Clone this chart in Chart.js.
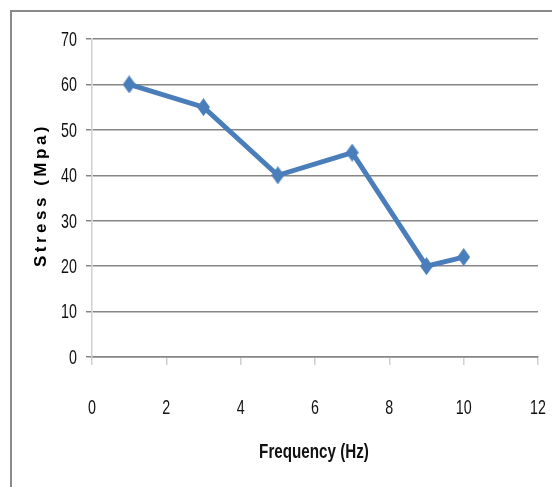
<!DOCTYPE html>
<html>
<head>
<meta charset="utf-8">
<script src="https://cdn.jsdelivr.net/npm/chart.js@4/dist/chart.umd.min.js"></script>
<style>
  html, body { margin: 0; padding: 0; background: #fff; overflow: hidden; }
  #wrap { width: 552px; height: 487px; position: relative; }
</style>
</head>
<body>
<div id="wrap"><canvas id="stressChart"></canvas></div>
<script>
// Data
const frequency = [1, 3, 5, 7, 9, 10];
const stress = [60, 55, 40, 45, 20, 22];
const xTicks = [0, 2, 4, 6, 8, 10, 12];
const yTicks = [0, 10, 20, 30, 40, 50, 60, 70];
const xTitle = 'Frequency (Hz)';
const yTitle = 'Stress (Mpa)';

const lineColor = '#4a7ebb';

// tall diamond marker like the Excel one
function makeDiamond(w, h) {
    const c = document.createElement('canvas');
    c.width = w;
    c.height = h;
    const g = c.getContext('2d');
    g.fillStyle = lineColor;
    g.beginPath();
    g.moveTo(w / 2, 0);
    g.lineTo(w, h / 2);
    g.lineTo(w / 2, h);
    g.lineTo(0, h / 2);
    g.closePath();
    g.fill();
    return c;
}

// draw text squeezed horizontally (the original uses a narrow face)
function narrowText(ctx, text, x, y, font, squeeze, align) {
    ctx.save();
    ctx.translate(x, y);
    ctx.scale(squeeze, 1);
    ctx.font = font;
    ctx.fillStyle = '#111';
    ctx.textAlign = align;
    ctx.textBaseline = 'middle';
    ctx.fillText(text, 0, 0);
    ctx.restore();
}

// Outer frame, narrow tick labels and axis titles
const labelsPlugin = {
    id: 'labels',
    afterDraw(chart) {
        const ctx = chart.ctx;
        const xs = chart.scales.x;
        const ys = chart.scales.y;
        const tickFont = "21px 'Liberation Sans', Arial, sans-serif";

        ctx.save();
        ctx.strokeStyle = '#8a8a8a';
        ctx.lineWidth = 2;
        ctx.strokeRect(11, 11, 700, 700);
        ctx.restore();

        yTicks.forEach(v => {
            narrowText(ctx, String(v), 77, ys.getPixelForValue(v) + 1, tickFont, 0.68, 'right');
        });
        xTicks.forEach(v => {
            narrowText(ctx, String(v), xs.getPixelForValue(v), 408, tickFont, 0.68, 'center');
        });

        narrowText(ctx, xTitle, (xs.left + xs.right) / 2 - 1, 452,
            "bold 20px 'Liberation Sans', Arial, sans-serif", 0.76, 'center');

        ctx.save();
        ctx.translate(41, 197);
        ctx.rotate(-Math.PI / 2);
        ctx.font = "bold 17px 'Liberation Sans', Arial, sans-serif";
        ctx.letterSpacing = '3.5px';
        ctx.fillStyle = '#000';
        ctx.textAlign = 'center';
        ctx.textBaseline = 'middle';
        ctx.fillText(yTitle, 2, 0);
        ctx.restore();
    }
};

document.addEventListener('DOMContentLoaded', function() {
    const ctx = document.getElementById('stressChart').getContext('2d');
    new Chart(ctx, {
        type: 'line',
        data: {
            datasets: [{
                data: frequency.map((f, i) => ({ x: f, y: stress[i] })),
                borderColor: lineColor,
                backgroundColor: lineColor,
                borderWidth: 5,
                pointStyle: makeDiamond(13, 18),
                tension: 0
            }]
        },
        options: {
            responsive: true,
            maintainAspectRatio: false,
            animation: false,
            layout: { padding: { top: 39, right: 14, left: 0, bottom: 0 } },
            plugins: {
                legend: { display: false },
                tooltip: { enabled: false }
            },
            scales: {
                x: {
                    type: 'linear',
                    min: xTicks[0],
                    max: xTicks[xTicks.length - 1],
                    afterBuildTicks: axis => { axis.ticks = xTicks.map(v => ({ value: v })); },
                    afterFit: axis => {
                        axis.height = 130;
                        axis.paddingLeft = 0;
                        axis.paddingRight = 0;
                    },
                    grid: {
                        drawOnChartArea: false,
                        drawTicks: true,
                        tickLength: 8,
                        color: '#d0d0d0',
                        lineWidth: 1.5
                    },
                    border: { color: '#868686', width: 1.5 },
                    ticks: { display: false }
                },
                y: {
                    min: yTicks[0],
                    max: yTicks[yTicks.length - 1],
                    afterBuildTicks: axis => { axis.ticks = yTicks.map(v => ({ value: v })); },
                    afterFit: axis => {
                        axis.width = 92;
                        axis.paddingTop = 0;
                        axis.paddingBottom = 0;
                    },
                    grid: {
                        color: '#868686',
                        lineWidth: 1.5,
                        tickLength: 6
                    },
                    border: { color: '#d0d0d0', width: 1.5 },
                    ticks: { display: false }
                }
            }
        },
        plugins: [labelsPlugin]
    });
});
</script>
</body>
</html>
